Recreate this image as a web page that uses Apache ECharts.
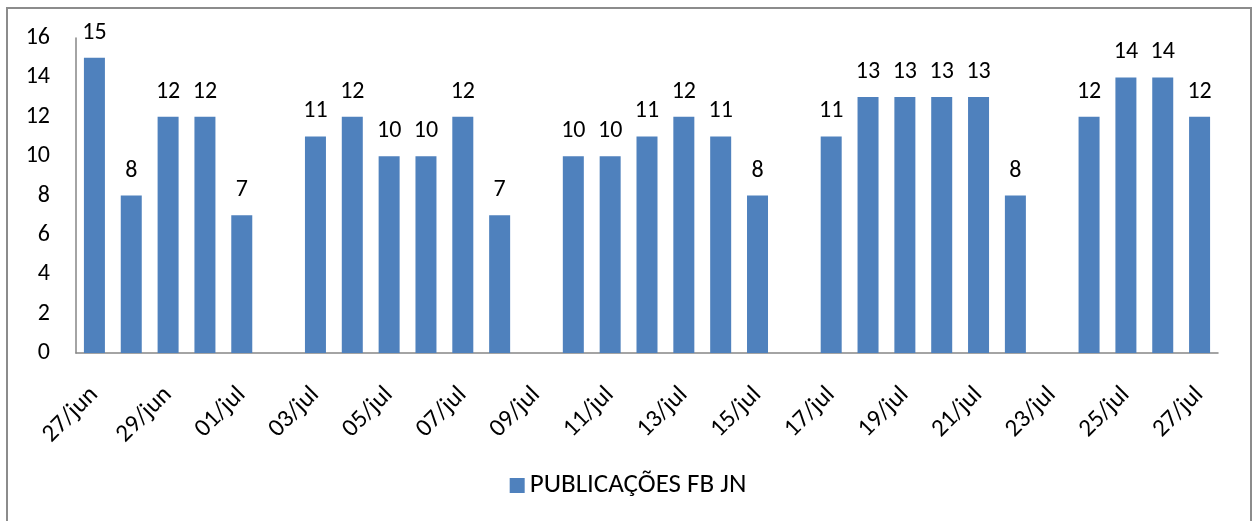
<!DOCTYPE html>
<html>
<head>
<meta charset="utf-8">
<script src="https://cdn.jsdelivr.net/npm/echarts@6/dist/echarts.min.js"></script>
<style>
  html, body { margin: 0; padding: 0; background: #fff; }
  #chart { width: 1256px; height: 521px; }
</style>
</head>
<body>
<div id="chart"></div>
<script>
const days = [
  '27/jun', '28/jun', '29/jun', '30/jun', '01/jul', '02/jul', '03/jul', '04/jul',
  '05/jul', '06/jul', '07/jul', '08/jul', '09/jul', '10/jul', '11/jul', '12/jul',
  '13/jul', '14/jul', '15/jul', '16/jul', '17/jul', '18/jul', '19/jul', '20/jul',
  '21/jul', '22/jul', '23/jul', '24/jul', '25/jul', '26/jul', '27/jul'
]
const publicacoes = [
  15, 8, 12, 12, 7, null, 11, 12,
  10, 10, 12, 7, null, 10, 10, 11,
  12, 11, 8, null, 11, 13, 13, 13,
  13, 8, null, 12, 14, 14, 12
]
const yTicks = { min: 0, max: 16, interval: 2 }

const font = 'Calibri, Carlito, "Open Sans", sans-serif'
const chart = echarts.init(document.getElementById('chart'))

chart.setOption({
  animation: false,
  textStyle: { fontFamily: font },
  graphic: [{
    type: 'rect',
    shape: { x: 7, y: 8, width: 1244, height: 540 },
    style: { fill: 'none', stroke: '#8c8c8c', lineWidth: 2 },
    silent: true
  }],
  legend: {
    bottom: 17,
    left: 'center',
    itemWidth: 15,
    itemHeight: 15,
    itemGap: 7,
    icon: 'rect',
    textStyle: { fontSize: 27, color: '#000', fontFamily: font }
  },
  grid: { left: 76, right: 38, top: 38, bottom: 168 },
  xAxis: {
    type: 'category',
    data: days,
    axisLine: { lineStyle: { color: '#868686', width: 1.5 } },
    axisTick: { show: false },
    axisLabel: {
      interval: 1,
      rotate: 45,
      margin: 38,
      fontSize: 25,
      color: '#000',
      fontFamily: font
    }
  },
  yAxis: {
    type: 'value',
    min: yTicks.min,
    max: yTicks.max,
    interval: yTicks.interval,
    axisLine: { show: true, lineStyle: { color: '#868686', width: 1.5 } },
    axisTick: { show: false },
    splitLine: { show: false },
    axisLabel: { margin: 26, fontSize: 24, color: '#000', fontFamily: font }
  },
  series: [{
    name: 'PUBLICAÇÕES FB JN',
    type: 'bar',
    data: publicacoes,
    barWidth: '57%',
    itemStyle: { color: '#4f81bd' },
    label: {
      show: true,
      position: 'top',
      distance: 13,
      fontSize: 24,
      color: '#000',
      fontFamily: font
    }
  }]
})
</script>
</body>
</html>
